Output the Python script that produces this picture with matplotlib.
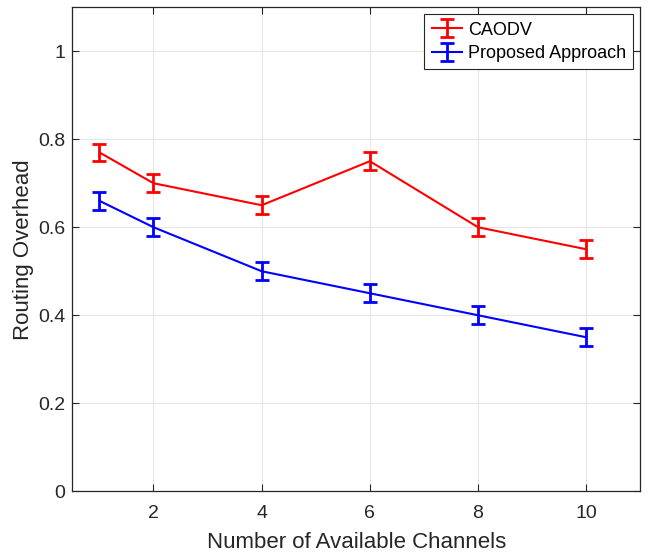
import matplotlib
matplotlib.use("Agg")
import matplotlib.pyplot as plt
import numpy as np

channels = [1, 2, 4, 6, 8, 10]
caodv = [0.77, 0.70, 0.65, 0.75, 0.60, 0.55]
proposed = [0.66, 0.60, 0.50, 0.45, 0.40, 0.35]
caodv_err = [0.02, 0.02, 0.02, 0.02, 0.02, 0.02]
proposed_err = [0.02, 0.02, 0.02, 0.02, 0.02, 0.02]

plt.rcParams['font.family'] = ['Liberation Sans', 'DejaVu Sans']

fig = plt.figure(figsize=(6.52, 5.53), dpi=100)
ax = fig.add_axes([0.111, 0.1116, 0.871, 0.8754])

ax.errorbar(channels, caodv, yerr=caodv_err, color='red', lw=1.5,
            elinewidth=2, capsize=5, capthick=2, label='CAODV')
ax.errorbar(channels, proposed, yerr=proposed_err, color='blue', lw=1.5,
            elinewidth=2, capsize=5, capthick=2, label='Proposed Approach')

ax.set_xlim(0.5, 11)
ax.set_ylim(0, 1.1)
ax.set_xticks([2, 4, 6, 8, 10])
ax.set_yticks([0, 0.2, 0.4, 0.6, 0.8, 1])
ax.set_yticklabels(['0', '0.2', '0.4', '0.6', '0.8', '1'])
ax.tick_params(direction='in', top=True, right=True, labelsize=14,
               colors='#262626', length=5, width=0.8)
ax.tick_params(axis='x', pad=10)
ax.tick_params(axis='y', pad=5)
ax.grid(True, color='#e6e6e6', lw=0.8)
ax.set_axisbelow(True)
for s in ax.spines.values():
    s.set_color('#262626')
    s.set_linewidth(0.9)

ax.set_xlabel('Number of Available Channels', fontsize=16, color='#262626', labelpad=7)
ax.set_ylabel('Routing Overhead', fontsize=16, color='#262626', labelpad=3)

leg = ax.legend(loc='upper right', fontsize=13, fancybox=False,
                edgecolor='#262626', framealpha=1, borderaxespad=0.4,
                handlelength=1.7, borderpad=0.4, labelspacing=0.35,
                handletextpad=0.3)
leg.get_frame().set_linewidth(0.8)

plt.savefig("out.png", dpi=100)
